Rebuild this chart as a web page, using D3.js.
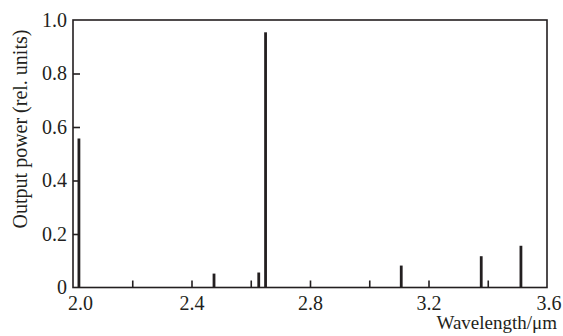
<!DOCTYPE html>
<html><head><meta charset="utf-8">
<script src="https://cdn.jsdelivr.net/npm/d3@7"></script>
<style>body{margin:0;background:#fff}svg{display:block} svg text{font-family:'Liberation Serif' !important}</style>
</head><body><svg id="c" width="563" height="336" font-family="Liberation Serif" font-size="18"></svg>
<script>
const wavelengths = [2.02, 2.476, 2.627, 2.650, 3.108, 3.378, 3.512];
const powers = [0.557, 0.052, 0.056, 0.954, 0.082, 0.117, 0.156];
const xTicks = [2.0, 2.2, 2.4, 2.6, 2.8, 3.0, 3.2, 3.4, 3.6];
const xTickLabels = ["2.0", "", "2.4", "", "2.8", "", "3.2", "", "3.6"];
const yTicks = [0, 0.2, 0.4, 0.6, 0.8, 1.0];
const yTickLabels = ["0", "0.2", "0.4", "0.6", "0.8", "1.0"];

const svg = d3.select("#c");
const L = 73, R = 547, T = 20, B = 287.5;
const x = d3.scaleLinear().domain([2.0, 3.6]).range([L, R]);
const y = d3.scaleLinear().domain([0, 1.0]).range([B, T]);
const ink = "#231f20";

// bars
svg.selectAll("line.bar").data(wavelengths).join("line")
  .attr("class", "bar")
  .attr("x1", d => x(d)).attr("x2", d => x(d))
  .attr("y1", y(0)).attr("y2", (d, i) => y(powers[i]))
  .attr("stroke", ink).attr("stroke-width", 2.8);

// frame
svg.append("rect").attr("x", L).attr("y", T).attr("width", R - L).attr("height", B - T)
  .attr("fill", "none").attr("stroke", ink).attr("stroke-width", 1.6);

// x axis (inward ticks)
const xAxis = d3.axisBottom(x).tickValues(xTicks).tickSize(-7)
  .tickFormat((d, i) => xTickLabels[i]).tickPadding(8);
const gx = svg.append("g").attr("transform", `translate(0,${B})`).call(xAxis);
gx.attr("font-family", "Liberation Serif").attr("font-size", 20);
gx.select(".domain").remove();
gx.selectAll(".tick line").attr("stroke", ink).attr("stroke-width", 1.6)
  .filter(d => d === 2.0 || d === 3.6).remove();
gx.selectAll(".tick text").attr("fill", ink)
  .attr("dx", d => d === 2.0 ? 7 : (d === 3.6 ? 1.5 : 0));

// y axis (inward ticks)
const yAxis = d3.axisLeft(y).tickValues(yTicks).tickSize(-7)
  .tickFormat((d, i) => yTickLabels[i]).tickPadding(6);
const gy = svg.append("g").attr("transform", `translate(${L},0)`).call(yAxis);
gy.attr("font-family", "Liberation Serif").attr("font-size", 20);
gy.select(".domain").remove();
gy.selectAll(".tick line").attr("stroke", ink).attr("stroke-width", 1.6)
  .filter(d => d === 0 || d === 1.0).remove();
gy.selectAll(".tick text").attr("fill", ink);

// axis titles
svg.append("text").attr("x", 557).attr("y", 329).attr("text-anchor", "end")
  .attr("font-size", 19).attr("fill", ink).text("Wavelength/μm");
svg.append("text").attr("transform", "translate(27,129) rotate(-90)").attr("text-anchor", "middle")
  .attr("font-size", 20).attr("fill", ink).text("Output power (rel. units)");
</script></body></html>
